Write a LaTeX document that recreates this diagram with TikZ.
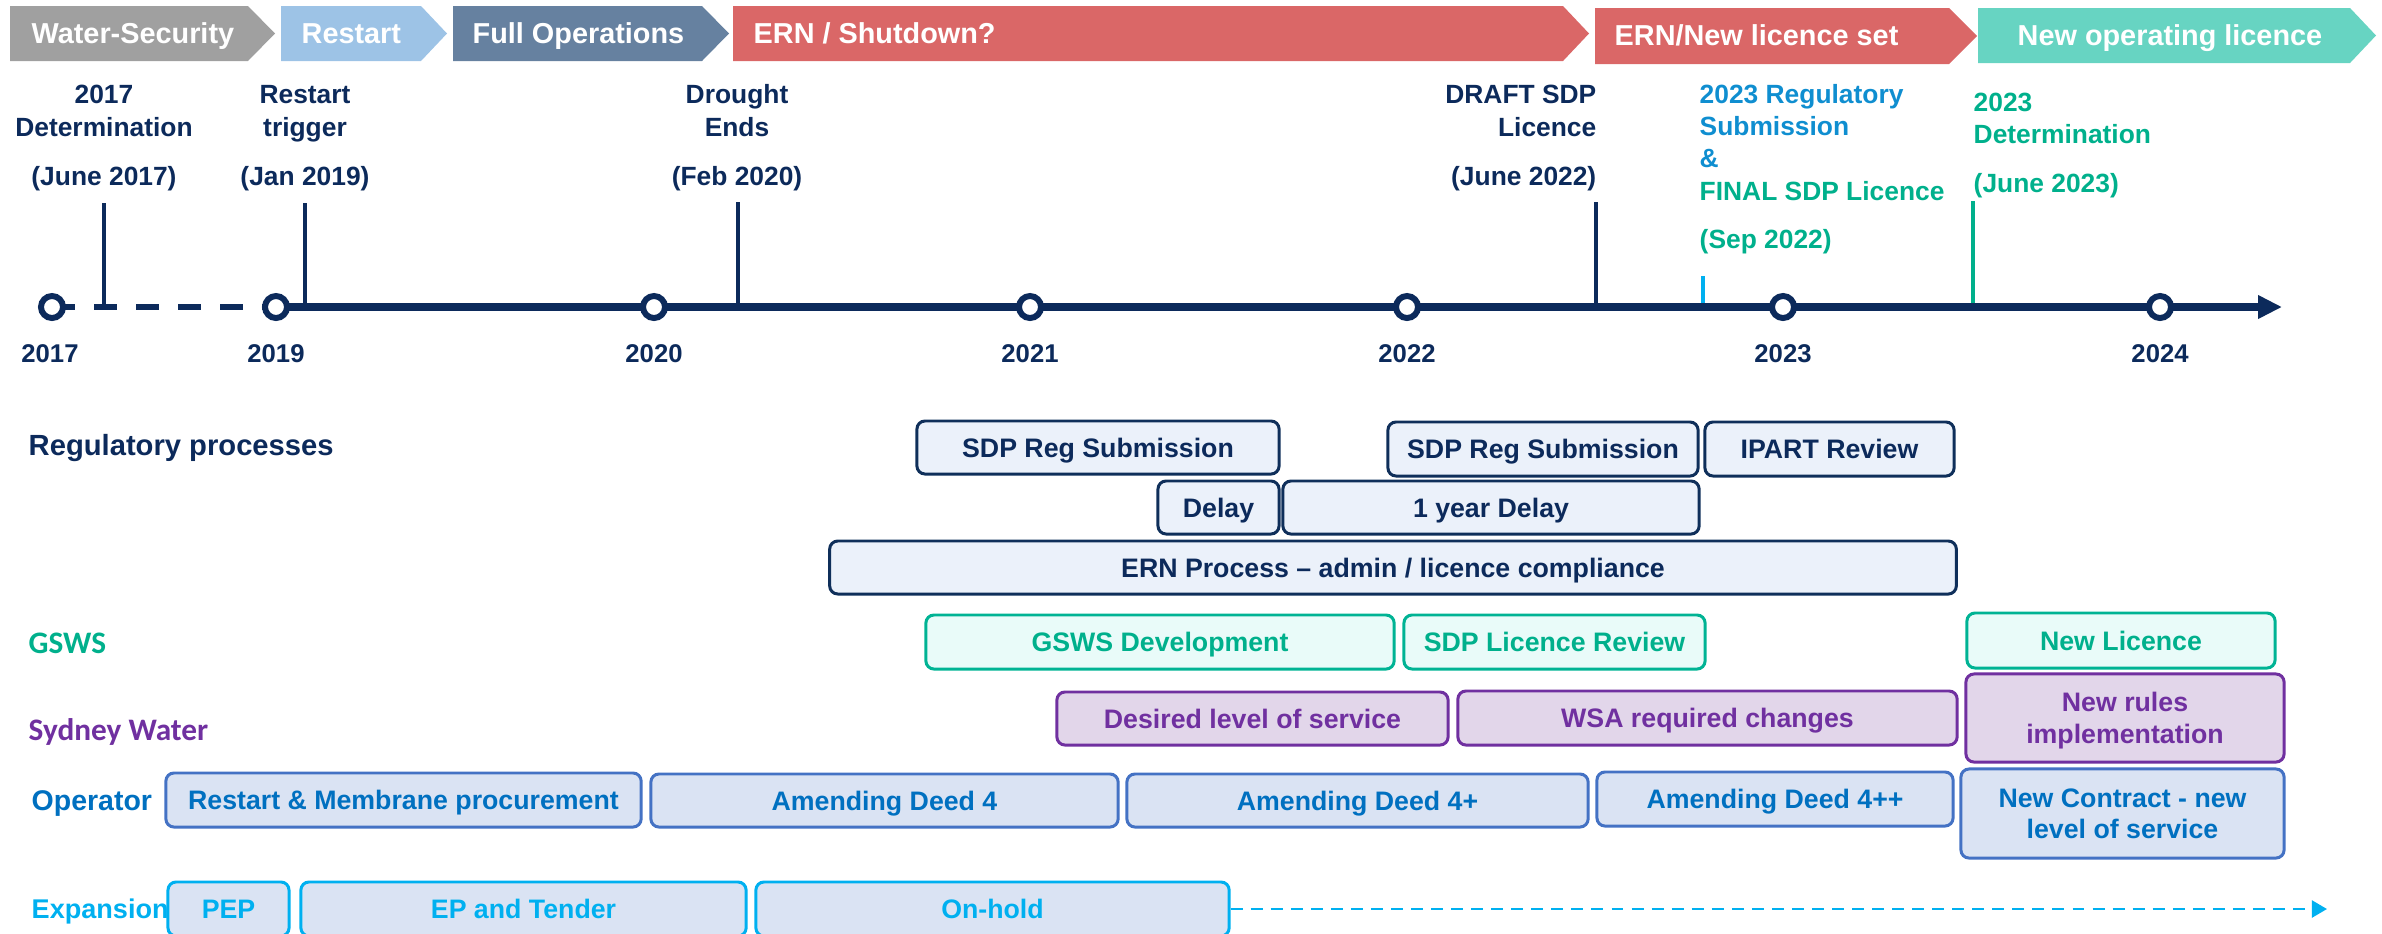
\documentclass[tikz,border=0pt]{standalone}
\usepackage{fontspec}
\setmainfont{Liberation Sans}
\newfontfamily\calfont{Carlito}
\usetikzlibrary{arrows.meta}
\definecolor{navy}{HTML}{0C2A5B}
\definecolor{regline}{HTML}{0F2F5A}
\definecolor{regfill}{HTML}{EBF1FA}
\definecolor{tealtext}{HTML}{00B08C}
\definecolor{tealline}{HTML}{00B394}
\definecolor{tealfill}{HTML}{E9FBF9}
\definecolor{swpurple}{HTML}{7030A0}
\definecolor{swfill}{HTML}{E2D6EA}
\definecolor{optext}{HTML}{0070C0}
\definecolor{opline}{HTML}{4472C4}
\definecolor{opfill}{HTML}{DAE3F3}
\definecolor{sky}{HTML}{00B0F0}
\definecolor{regblue}{HTML}{0F8ED0}
\definecolor{hgray}{HTML}{A0A0A0}
\definecolor{hlblue}{HTML}{9DC3E6}
\definecolor{hslate}{HTML}{6681A0}
\definecolor{hred}{HTML}{DA6767}
\definecolor{hteal}{HTML}{67D4C2}
\begin{document}
\begin{tikzpicture}[x=0.01cm, y=-0.01cm,
  hdr/.style={font=\fontsize{8.2}{9.8}\selectfont\bfseries, text=white, inner sep=0pt, anchor=base west},
  ms/.style={font=\fontsize{7.5}{9.4}\selectfont\bfseries, inner sep=0pt},
  yr/.style={font=\fontsize{7.3}{8.8}\selectfont\bfseries, text=navy, inner sep=0pt, anchor=base},
  rowlbl/.style={inner sep=0pt, anchor=base west},
  boxcore/.style={rounded corners=2.3pt, line width=0.85pt, inner sep=0pt, align=center, font=\fontsize{7.6}{9}\selectfont\bfseries},
  box/.style={boxcore, text height=5.44pt, text depth=0pt},
  twoline/.style={text height=14.44pt, text depth=0pt},
  regbox/.style={box, draw=regline, fill=regfill, text=navy},
  gbox/.style={box, draw=tealline, fill=tealfill, text=tealtext},
  swbox/.style={box, draw=swpurple, fill=swfill, text=swpurple},
  opbox/.style={box, draw=opline, fill=opfill, text=optext},
  exbox/.style={box, draw=sky, fill=opfill, text=sky},
  yearc/.style={circle, draw=navy, fill=white, line width=1.7pt, minimum size=6.26pt, inner sep=0pt},
  tl/.style={draw=navy, line width=2.3pt},
  tickline/.style={line width=1.35pt},
]
\useasboundingbox (0,0) rectangle (2382,933);
\clip (0,0) rectangle (2382,933);

% ---------- header chevrons ----------
\fill[hgray]  (10,6) -- (248,6) -- (275,33.5) -- (248,61) -- (10,61) -- cycle;
\fill[hlblue] (281,6) -- (421,6) -- (447,33.5) -- (421,61) -- (281,61) -- cycle;
\fill[hslate] (453,6) -- (702,6) -- (729,33.5) -- (702,61) -- (453,61) -- cycle;
\fill[hred]   (733,6) -- (1563,6) -- (1589,33.5) -- (1563,61) -- (733,61) -- cycle;
\fill[hred]   (1595,8) -- (1949,8) -- (1977,36) -- (1949,64) -- (1595,64) -- cycle;
\fill[hteal]  (1978,8) -- (2350,8) -- (2376,35.5) -- (2350,63) -- (1978,63) -- cycle;
\node[hdr] (hws)  at (31,43)   {Water-Security};
\node[hdr] (hrs)  at (301,43)  {Restart};
\node[hdr] (hfo)  at (472,43)  {Full Operations};
\node[hdr] (hern) at (753,43)  {ERN / Shutdown?};
\node[hdr] (hnl)  at (1614,45) {ERN/New licence set};
\node[hdr] (hnol) at (2017,45) {New operating licence};

% ---------- milestones (base = last line) ----------
\node[ms, text=navy, align=center, anchor=base] (m2017) at (104,185) {2017\\Determination\\[4.3pt](June 2017)};
\node[ms, text=navy, align=center, anchor=base] (mrest) at (305,185) {Restart\\trigger\\[4.3pt](Jan 2019)};
\node[ms, text=navy, align=center, anchor=base] (mdrought) at (737,185) {Drought\\Ends\\[4.3pt](Feb 2020)};
\node[ms, text=navy, align=right, anchor=base east] (mdraft) at (1597,185) {DRAFT SDP\\Licence\\[4.3pt](June 2022)};
\node[ms, font=\fontsize{7.5}{9.2}\selectfont\bfseries, align=left, anchor=base west] (mreg) at (1699,248)
  {\textcolor{regblue}{2023 Regulatory}\\\textcolor{regblue}{Submission}\\\textcolor{regblue}{\&}\\\textcolor{tealtext}{FINAL SDP Licence}\\[4.4pt]\textcolor{tealtext}{(Sep 2022)}};
\node[ms, font=\fontsize{7.5}{9.2}\selectfont\bfseries, text=tealtext, align=left, anchor=base west] (mdet) at (1973,192) {2023\\Determination\\[4.5pt](June 2023)};

% tick coordinates
\coordinate (k2017a) at (104,203);  \coordinate (k2017b) at (104,307);
\coordinate (kresta) at (305,203);  \coordinate (krestb) at (305,307);
\coordinate (kdroa)  at (738,202);  \coordinate (kdrob)  at (738,307);
\coordinate (kdrafa) at (1596,202); \coordinate (kdrafb) at (1596,307);
\coordinate (kseppa) at (1703,276); \coordinate (ksepb)  at (1703,307);
\coordinate (kdeta)  at (1973,201); \coordinate (kdetb)  at (1973,307);
\draw[tickline, navy] (k2017a) -- (k2017b);
\draw[tickline, navy] (kresta) -- (krestb);
\draw[tickline, navy] (kdroa) -- (kdrob);
\draw[tickline, navy] (kdrafa) -- (kdrafb);
\draw[tickline, sky] (kseppa) -- (ksepb);
\draw[tickline, tealtext] (kdeta) -- (kdetb);

% ---------- timeline ----------
\coordinate (t2017) at (52,307);
\coordinate (t2019) at (276,307);
\coordinate (tlend) at (2282,307);
\draw[navy, line width=1.9pt, dash pattern=on 6.54pt off 5.41pt] (t2017) -- (t2019);
\draw[tl, -{Triangle[length=6.8pt, width=6.3pt]}] (t2019) -- (tlend);
\node[yearc] (c2017) at (52,307) {};
\node[yearc] (c2019) at (276,307) {};
\node[yearc] (c2020) at (654,307) {};
\node[yearc] (c2021) at (1030,307) {};
\node[yearc] (c2022) at (1407,307) {};
\node[yearc] (c2023) at (1783,307) {};
\node[yearc] (c2024) at (2160,307) {};
\node[yr] (y2017) at (50,362) {2017};
\node[yr] (y2019) at (276,362) {2019};
\node[yr] (y2020) at (654,362) {2020};
\node[yr] (y2021) at (1030,362) {2021};
\node[yr] (y2022) at (1407,362) {2022};
\node[yr] (y2023) at (1783,362) {2023};
\node[yr] (y2024) at (2160,362) {2024};

% ---------- row labels ----------
\node[rowlbl, font=\fontsize{8.3}{10}\selectfont\bfseries, text=navy] (lreg) at (28,455) {Regulatory processes};
\node[rowlbl, font=\calfont\fontsize{8.9}{10.5}\selectfont\bfseries, text=tealtext] (lgsws) at (28,653) {GSWS};
\node[rowlbl, font=\calfont\fontsize{8.9}{10.5}\selectfont\bfseries, text=swpurple] (lsw) at (28,740) {Sydney Water};
\node[rowlbl, font=\fontsize{8.1}{9.7}\selectfont\bfseries, text=optext] (lop) at (31,810) {Operator};
\node[rowlbl, font=\fontsize{7.7}{9.2}\selectfont\bfseries, text=sky] (lexp) at (31,918) {Expansion};

% ---------- regulatory boxes ----------
\node[regbox, minimum width=3.62cm, minimum height=0.53cm] (reg1) at (1098,447.5) {SDP Reg Submission};
\node[regbox, minimum width=3.10cm, minimum height=0.54cm] (reg2) at (1543,449) {SDP Reg Submission};
\node[regbox, minimum width=2.49cm, minimum height=0.54cm] (ipart) at (1829.5,449) {IPART Review};
\node[regbox, minimum width=1.21cm, minimum height=0.53cm] (delay) at (1218.5,507.5) {Delay};
\node[regbox, minimum width=4.16cm, minimum height=0.53cm] (ydelay) at (1491,507.5) {1 year Delay};
\node[regbox, minimum width=11.26cm, minimum height=0.53cm] (ern) at (1393,567.5) {ERN Process – admin / licence compliance};

% ---------- GSWS boxes ----------
\node[gbox, minimum width=4.68cm, minimum height=0.54cm] (gdev) at (1160,642) {GSWS Development};
\node[gbox, minimum width=3.01cm, minimum height=0.54cm] (sdplr) at (1554.5,642) {SDP Licence Review};
\node[gbox, minimum width=3.08cm, minimum height=0.55cm] (newlic) at (2121,640.5) {New Licence};

% ---------- Sydney Water boxes ----------
\node[swbox, minimum width=3.91cm, minimum height=0.53cm] (dlos) at (1252.5,718.5) {Desired level of service};
\node[swbox, minimum width=4.99cm, minimum height=0.54cm] (wsa) at (1707.5,718) {WSA required changes};
\node[swbox, twoline, minimum width=3.18cm, minimum height=0.88cm] (newrules) at (2125,718) {New rules\\implementation};

% ---------- Operator boxes ----------
\node[opbox, minimum width=4.75cm, minimum height=0.54cm] (rmp) at (403.5,800) {Restart \& Membrane procurement};
\node[opbox, minimum width=4.67cm, minimum height=0.53cm] (ad4) at (884.5,800.5) {Amending Deed 4};
\node[opbox, minimum width=4.61cm, minimum height=0.53cm] (ad4p) at (1357.5,800.5) {Amending Deed 4+};
\node[opbox, minimum width=3.56cm, minimum height=0.54cm] (ad4pp) at (1775,799) {Amending Deed 4++};
\node[opbox, twoline, minimum width=3.23cm, minimum height=0.89cm] (newcon) at (2122.5,813.5) {New Contract - new\\level of service};

% ---------- Expansion boxes ----------
\node[exbox, minimum width=1.21cm, minimum height=0.54cm] (pep) at (228.5,909) {PEP};
\node[exbox, minimum width=4.45cm, minimum height=0.54cm] (ept) at (523.5,909) {EP and Tender};
\node[exbox, minimum width=4.73cm, minimum height=0.54cm] (onhold) at (992.5,909) {On-hold};
\coordinate (exptip) at (2327,909);
\draw[sky, line width=0.8pt, dash pattern=on 3.4pt off 2.3pt, -{Triangle[length=4.3pt, width=4.8pt]}] (onhold.east) -- (exptip);

\end{tikzpicture}
\end{document}
